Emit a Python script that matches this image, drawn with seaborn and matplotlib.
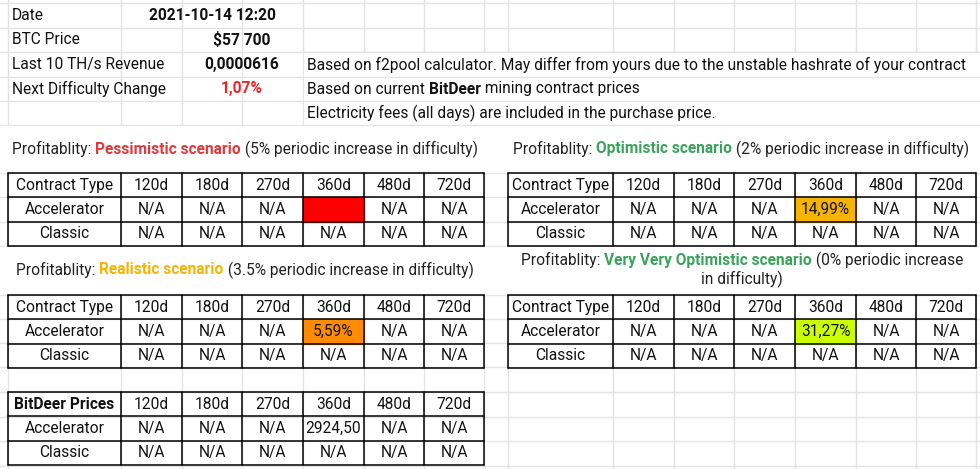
import matplotlib
matplotlib.use("Agg")
import matplotlib.pyplot as plt
import seaborn as sns
from matplotlib.patches import Rectangle

sns.set_theme(style="white", font="Roboto")

# ---- data ----
info_labels = ["Date", "BTC Price", "Last 10 TH/s Revenue", "Next Difficulty Change"]
info_values = ["2021-10-14 12:20", "$57 700", "0,0000616", "1,07%"]
durations = ["120d", "180d", "270d", "360d", "480d", "720d"]
contract_types = ["Accelerator", "Classic"]
pessimistic = [["N/A", "N/A", "N/A", "", "N/A", "N/A"], ["N/A"] * 6]
optimistic = [["N/A", "N/A", "N/A", "14,99%", "N/A", "N/A"], ["N/A"] * 6]
realistic = [["N/A", "N/A", "N/A", "5,59%", "N/A", "N/A"], ["N/A"] * 6]
very_optimistic = [["N/A", "N/A", "N/A", "31,27%", "N/A", "N/A"], ["N/A"] * 6]
prices = [["N/A", "N/A", "N/A", "2924,50", "N/A", "N/A"], ["N/A"] * 6]
notes = ["Based on f2pool calculator. May differ from yours due to the unstable hashrate of your contract",
         "Based on current |BitDeer| mining contract prices",
         "Electricity fees (all days) are included in the purchase price."]

W, H = 980, 469
fig = plt.figure(figsize=(W / 100, H / 100), dpi=100)
ax = fig.add_axes([0, 0, 1, 1])
ax.set_xlim(0, W)
ax.set_ylim(H, 0)
ax.axis("off")
FS = 11.2
GRID = "#e2e2e2"

cols_l = [8, 121, 182, 242, 303, 364, 424, 484]
cols_r = [508, 613, 674, 734, 795, 856, 916, 976]
grid_x = cols_l + cols_r
grid_y = [3, 28, 52, 77, 101, 125, 173, 197, 222, 246, 295, 319, 343, 367, 392, 417, 441, 466]
for x in grid_x:
    ax.plot([x, x], [0, H], color=GRID, lw=1, zorder=0)
for y in grid_y:
    ax.plot([0, W], [y, y], color=GRID, lw=1, zorder=0)
ax.add_patch(Rectangle((1, 126), 978, 46, color="white", zorder=1))
ax.add_patch(Rectangle((1, 247), 978, 47, color="white", zorder=1))
ax.add_patch(Rectangle((304, 53), 675, 71, color="white", zorder=1))
for y in [52, 77, 101, 125]:
    ax.plot([303, W], [y, y], color=GRID, lw=1, zorder=1.5)

for i, (lab, val) in enumerate(zip(info_labels, info_values)):
    yc = (grid_y[i] + grid_y[i + 1]) / 2
    ax.text(12, yc, lab, fontsize=FS, va="center", color="#111", zorder=3)
    ax.text(212 if i == 0 else 242, yc, val, fontsize=FS, va="center", ha="center",
            fontweight="bold", color="#e8262b" if i == 3 else "#111", zorder=3)
for i, n in enumerate(notes):
    yc = (grid_y[i + 2] + grid_y[i + 3]) / 2
    x = 307
    for j, p in enumerate(n.split("|")):
        t = ax.text(x, yc, p, fontsize=FS, va="center", color="#111",
                    fontweight="bold" if j == 1 else "normal", zorder=3)
        fig.canvas.draw()
        x += t.get_window_extent().width

def rich(xc, y, segs, center=True):
    texts, widths = [], []
    fig.canvas.draw()
    for s, c, b in segs:
        t = ax.text(0, y, s, fontsize=FS, va="center", color=c,
                    fontweight="bold" if b else "normal", zorder=3)
        widths.append(t.get_window_extent().width)
        texts.append(t)
    x = xc - sum(widths) / 2 if center else xc
    for t, w in zip(texts, widths):
        t.set_x(x)
        x += w

def table(cols, y0, rows_data, header="Contract Type", hl=None, bold_header=False):
    ys = [y0 + k * 24.3 for k in range(4)]
    hdr = [header] + durations
    for r in range(3):
        for c in range(7):
            x0, x1 = cols[c], cols[c + 1]
            ya, yb = ys[r], ys[r + 1]
            if hl is not None and c == 4 and r == 1:
                ax.add_patch(Rectangle((x0, ya), x1 - x0, yb - ya, color=hl, zorder=2))
            if r == 0:
                txt = hdr[c]
            elif c == 0:
                txt = contract_types[r - 1]
            else:
                txt = rows_data[r - 1][c - 1]
            ax.text((x0 + x1) / 2, (ya + yb) / 2, txt, fontsize=FS, ha="center", va="center",
                    color="#111", fontweight="bold" if (bold_header and r == 0 and c == 0) else "normal",
                    zorder=3)
    for x in cols:
        ax.plot([x, x], [ys[0], ys[-1]], color="black", lw=1.1, zorder=4)
    for y in ys:
        ax.plot([cols[0], cols[-1]], [y, y], color="black", lw=1.1, zorder=4)

rich(12, 149, [("Profitablity: ", "#222", False), ("Pessimistic scenario", "#e0393e", True),
               (" (5% periodic increase in difficulty)", "#222", False)], center=False)
rich(513, 149, [("Profitablity: ", "#222", False), ("Optimistic scenario", "#3aa35b", True),
                (" (2% periodic increase in difficulty)", "#222", False)], center=False)
rich(16, 270, [("Profitablity: ", "#222", False), ("Realistic scenario", "#f6b400", True),
               (" (3.5% periodic increase in difficulty)", "#222", False)], center=False)
rich(742, 260, [("Profitablity: ", "#222", False), ("Very Very Optimistic scenario", "#3aa35b", True),
                (" (0% periodic increase", "#222", False)])
ax.text(742, 279, "in difficulty)", fontsize=FS, ha="center", va="center", color="#222", zorder=3)

table(cols_l, 173, pessimistic, hl="#ff0000")
table(cols_r, 173, optimistic, hl="#f6b400")
table(cols_l, 295, realistic, hl="#ff8c00")
table(cols_r, 295, very_optimistic, hl="#ccff00")
table(cols_l, 392, prices, header="BitDeer Prices", bold_header=True)

fig.savefig("out.png", dpi=100)
